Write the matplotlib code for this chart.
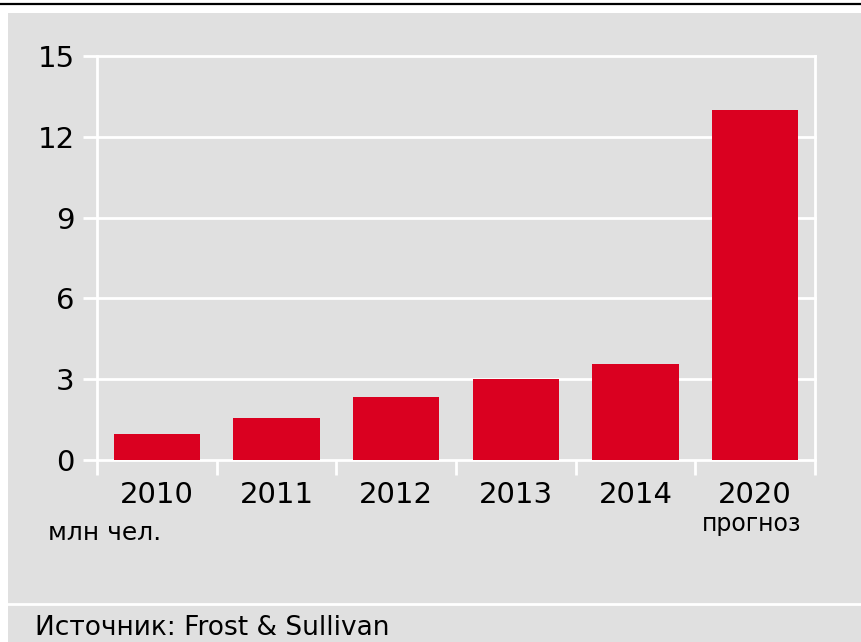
import matplotlib.pyplot as plt
from matplotlib.patches import Rectangle
from matplotlib.lines import Line2D

# Данные
years = ["2010", "2011", "2012", "2013", "2014", "2020"]
values = [0.95, 1.55, 2.33, 3.0, 3.55, 13.0]
yticks = [0, 3, 6, 9, 12, 15]

bg = "#e0e0e0"
red = "#da0020"

fig = plt.figure(figsize=(8.62, 6.42), dpi=100)
fig.patch.set_facecolor("white")

# серый фон и линии оформления
fig.patches.append(Rectangle((8 / 862, 0), 1, 1 - 13 / 642, transform=fig.transFigure,
                             facecolor=bg, edgecolor="none", zorder=-10))
fig.lines.append(Line2D([0, 1], [1 - 4 / 642] * 2, transform=fig.transFigure,
                        color="black", lw=1.6))
fig.lines.append(Line2D([8 / 862, 1], [1 - 604 / 642] * 2, transform=fig.transFigure,
                        color="white", lw=2))

ax = fig.add_axes([97 / 862, 1 - 460 / 642, (815 - 97) / 862, (460 - 56) / 642])
ax.set_zorder(5)
ax.set_facecolor(bg)
x = list(range(len(years)))
ax.bar(x, values, width=0.72, color=red, zorder=3)

ax.set_xlim(-0.5, len(years) - 0.5)
ax.set_ylim(0, 15)
ax.set_yticks(yticks)
ax.set_yticklabels([str(t) for t in yticks])
ax.yaxis.grid(True, color="white", lw=2)
for gl in ax.get_ygridlines():
    gl.set_clip_on(False)
ax.set_axisbelow(True)

# риски между категориями снизу
ax.set_xticks([i - 0.5 for i in range(len(years) + 1)], minor=True)
ax.set_xticks(x)
ax.set_xticklabels(years)
ax.tick_params(axis="x", which="major", length=0, pad=15, labelsize=21)
ax.tick_params(axis="x", which="minor", length=11, width=2, color="white", direction="out")
ax.tick_params(axis="y", length=10, width=2, color="white", pad=6, labelsize=21)

for side in ["top", "bottom"]:
    ax.spines[side].set_visible(False)
for side in ["left", "right"]:
    ax.spines[side].set_color("white")
    ax.spines[side].set_linewidth(2)

fig.text(48 / 862, 1 - 533 / 642, "млн чел.", fontsize=18, va="center", ha="left")
fig.text(752 / 862, 1 - 524 / 642, "прогноз", fontsize=17, va="center", ha="center")
fig.text(35 / 862, 1 - 628 / 642, "Источник: Frost & Sullivan", fontsize=19,
         va="center", ha="left")

fig.savefig("out.png", dpi=100, facecolor=fig.get_facecolor())
